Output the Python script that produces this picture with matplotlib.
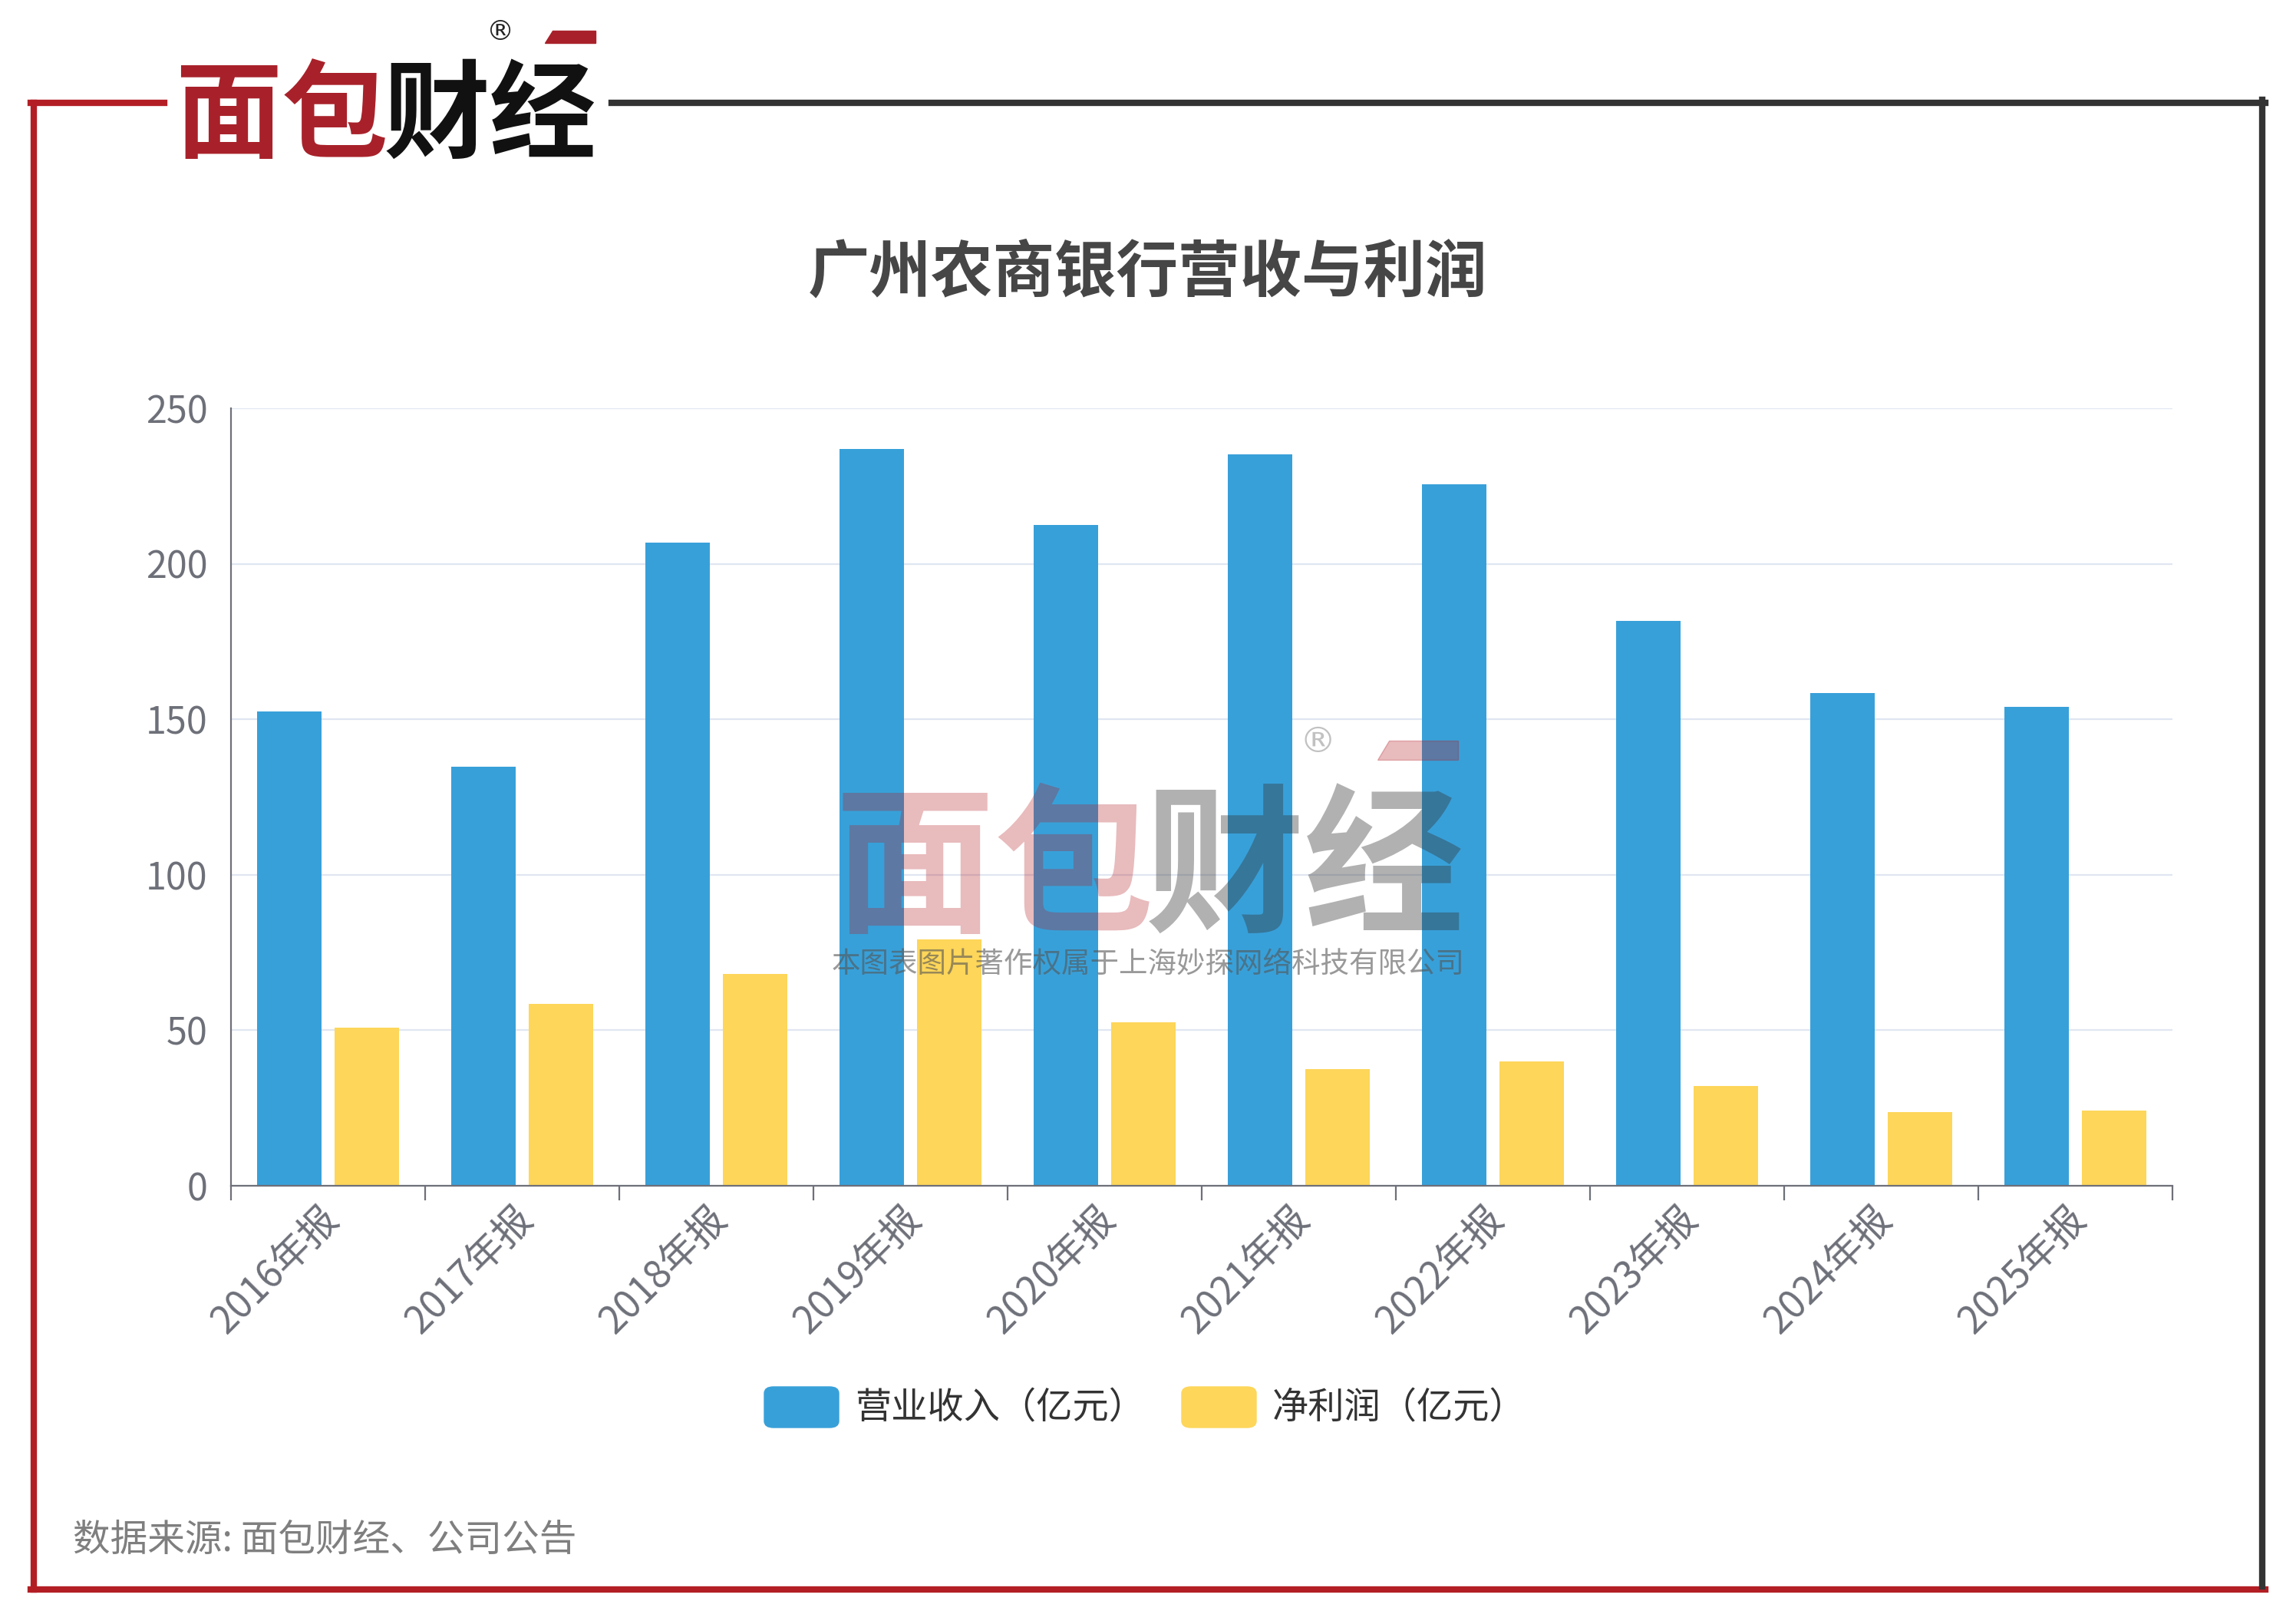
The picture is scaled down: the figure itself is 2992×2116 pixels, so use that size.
import numpy as np
import matplotlib
matplotlib.use("Agg")
import matplotlib.pyplot as plt
from matplotlib.patches import FancyBboxPatch, Polygon
from matplotlib.lines import Line2D
from matplotlib.transforms import ScaledTranslation

plt.rcParams['font.family'] = ['Noto Sans CJK SC', 'DejaVu Sans']

# data
years = ["2016年报", "2017年报", "2018年报", "2019年报", "2020年报",
         "2021年报", "2022年报", "2023年报", "2024年报", "2025年报"]
revenue = [152.4, 134.7, 206.9, 237.0, 212.4, 235.2, 225.6, 181.6, 158.5, 154.0]
profit = [50.8, 58.6, 68.2, 79.2, 52.5, 37.4, 40.0, 32.2, 23.8, 24.2]
yticks = [0, 50, 100, 150, 200, 250]

title = "广州农商银行营收与利润"
legend_names = ["营业收入（亿元）", "净利润（亿元）"]
source = "数据来源: 面包财经、公司公告"
watermark = "本图表图片著作权属于上海妙探网络科技有限公司"

blue = "#38A0D9"
yellow = "#FDD65A"
axis_gray = "#6E7079"
red = "#B31E25"
dark = "#333333"

W, H = 2992, 2116
fig = plt.figure(figsize=(W / 100, H / 100), dpi=100)
fig.patch.set_facecolor("white")


def fx(x):
    return x / W


def fy(y):
    return 1 - y / H


# frame around the chart
lw = 6
fig.add_artist(Line2D([fx(44), fx(44)], [fy(134), fy(2071)], color=red, lw=lw))
fig.add_artist(Line2D([fx(40), fx(2952)], [fy(2071), fy(2071)], color=red, lw=lw))
fig.add_artist(Line2D([fx(40), fx(214)], [fy(134), fy(134)], color=red, lw=lw))
fig.add_artist(Line2D([fx(797), fx(2952)], [fy(134), fy(134)], color=dark, lw=lw))
fig.add_artist(Line2D([fx(2948), fx(2948)], [fy(130), fy(2067)], color=dark, lw=lw))

# logo top left
fig.text(fx(228), fy(195), "面包", color="#A8212A", fontsize=100, fontweight="heavy",
         ha="left", va="baseline")
fig.text(fx(500), fy(195), "财经", color="#111111", fontsize=100, fontweight="heavy",
         ha="left", va="baseline")
fig.text(fx(652), fy(42), "®", color="#222222", fontsize=26, ha="center", va="center",
         family=["DejaVu Sans"])
fig.add_artist(Polygon([[fx(720), fy(40)], [fx(776), fy(40)], [fx(776), fy(56)],
                        [fx(710), fy(56)]], closed=True, color="#A8212A"))

# title
fig.text(fx(1496), fy(356), title, color="#464646", fontsize=58, fontweight="bold",
         ha="center", va="center")

# main axes
x0, x1, ytop, ybot = 301, 2831, 532, 1545
ax = fig.add_axes([fx(x0), fy(ybot), fx(x1 - x0), (ybot - ytop) / H])
x = np.arange(len(years))
ax.bar(x - 0.2, revenue, 0.33, color=blue, zorder=2)
ax.bar(x + 0.2, profit, 0.33, color=yellow, zorder=2)

ax.set_xlim(-0.5, len(years) - 0.5)
ax.set_ylim(0, 250)
ax.set_yticks(yticks)
ax.grid(axis="y", color="#E0E6F1", lw=1.6, zorder=0)
ax.set_axisbelow(True)
for s in ["top", "right"]:
    ax.spines[s].set_visible(False)
for s in ["left", "bottom"]:
    ax.spines[s].set_color(axis_gray)
    ax.spines[s].set_linewidth(1.6)
ax.tick_params(axis="y", length=0, pad=22, labelsize=35, labelcolor=axis_gray)

ax.set_xticks(x)
ax.set_xticklabels(years, rotation=45, ha="right", va="top", rotation_mode="anchor")
ax.set_xticks(np.arange(-0.5, len(years)), minor=True)
ax.tick_params(axis="x", which="major", length=0, pad=12, labelsize=36, labelcolor=axis_gray)
ax.tick_params(axis="x", which="minor", length=14, width=1.6, color=axis_gray, direction="out")
shift = ScaledTranslation(-0.12, 0, fig.dpi_scale_trans)
for lbl in ax.get_xticklabels():
    lbl.set_transform(lbl.get_transform() + shift)

# watermark over the plot
fig.text(fx(1088), fy(1198), "面包", color="#B31E25", alpha=0.3, fontsize=150,
         fontweight="heavy", ha="left", va="baseline", zorder=5)
fig.text(fx(1492), fy(1198), "财经", color="#333333", alpha=0.38, fontsize=150,
         fontweight="heavy", ha="left", va="baseline", zorder=5)
fig.text(fx(1717), fy(968), "®", color="#999999", alpha=0.6, fontsize=34,
         ha="center", va="center", family=["DejaVu Sans"], zorder=5)
fig.add_artist(Polygon([[fx(1810), fy(965)], [fx(1900), fy(965)], [fx(1900), fy(990)],
                        [fx(1795), fy(990)]], closed=True, color="#B31E25", alpha=0.3, zorder=5))
fig.text(fx(1496), fy(1256), watermark, color="#555555", alpha=0.6, fontsize=27,
         ha="center", va="center", zorder=5)

# legend
for (bx, tx, name, c) in [(996, 1114, legend_names[0], blue), (1540, 1658, legend_names[1], yellow)]:
    box = FancyBboxPatch((fx(bx), fy(1860)), fx(97), 53 / H,
                         boxstyle="round,pad=0,rounding_size=0.004", color=c,
                         transform=fig.transFigure)
    fig.add_artist(box)
    fig.text(fx(tx), fy(1834), name, color="#333333", fontsize=34, ha="left", va="center")

# source
fig.text(fx(95), fy(2007), source, color="#7F7F7F", fontsize=35, ha="left", va="center")

fig.savefig("out.png", dpi=100)
